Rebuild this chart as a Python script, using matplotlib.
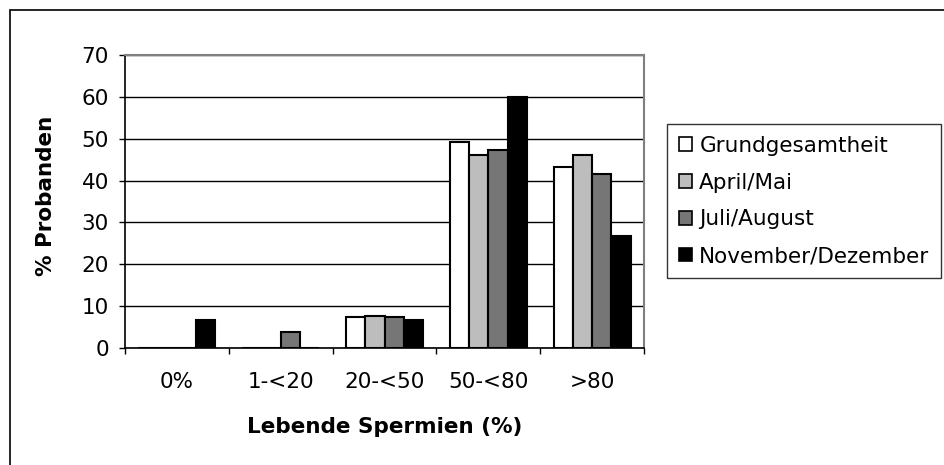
import numpy as np
import matplotlib.pyplot as plt
from matplotlib.patches import Rectangle, Patch

plt.rcParams['font.family'] = ['DejaVu Sans']

categories = ['0%', '1-<20', '20-<50', '50-<80', '>80']
series_names = ['Grundgesamtheit', 'April/Mai', 'Juli/August', 'November/Dezember']
grund = [0, 0, 7.4, 49.3, 43.3]
april_mai = [0, 0, 7.7, 46.2, 46.2]
juli_august = [0, 3.8, 7.5, 47.2, 41.5]
nov_dez = [6.7, 0, 6.7, 60.0, 26.7]

series = [grund, april_mai, juli_august, nov_dez]
colors = ['white', '#bdbdbd', '#767676', 'black']
fs = 15.5

fig = plt.figure(figsize=(9.44, 4.65), dpi=100)
ax = fig.add_axes([125/944, 1 - 348/465, (644-125)/944, (348-55)/465])

x = np.arange(len(categories))
w = 0.185
for i, vals in enumerate(series):
    ax.bar(x + (i - 1.5) * w, vals, width=w, color=colors[i], edgecolor='black',
           linewidth=1.5, zorder=3, label=series_names[i])

ax.set_ylim(0, 70)
ax.set_xlim(-0.5, len(categories) - 0.5)
ax.set_yticks(range(0, 71, 10))
ax.yaxis.grid(True, color='black', linewidth=1)
ax.set_axisbelow(True)

# ticks sit between the categories, labels in the middle
ax.set_xticks(np.arange(-0.5, len(categories), 1))
ax.set_xticklabels([])
ax.set_xticks(x, minor=True)
ax.set_xticklabels(categories, minor=True)
ax.tick_params(axis='x', which='minor', length=0, pad=17, labelsize=fs)
ax.tick_params(axis='x', which='major', length=4.5, width=1)
ax.tick_params(axis='y', length=4.5, width=1, labelsize=fs, pad=7)

for s in ['top', 'right']:
    ax.spines[s].set_color('#808080')
    ax.spines[s].set_linewidth(1.5)
for s in ['left', 'bottom']:
    ax.spines[s].set_color('black')
    ax.spines[s].set_linewidth(1.2)

ax.set_xlabel('Lebende Spermien (%)', fontsize=fs, fontweight='bold', labelpad=18)
ax.set_ylabel('% Probanden', fontsize=fs, fontweight='bold')
ax.yaxis.set_label_coords(-0.133, 0.52)

handles = [Patch(facecolor=c, edgecolor='black', linewidth=1.2) for c in colors]
leg = fig.legend(handles, series_names, loc='upper left',
                 bbox_to_anchor=(667/944, 1 - 124/465), fontsize=fs,
                 frameon=True, fancybox=False, handlelength=0.6, handleheight=0.6,
                 handletextpad=0.35, labelspacing=0.78, borderpad=0.55, borderaxespad=0)
leg.get_frame().set_edgecolor('black')
leg.get_frame().set_linewidth(1)

# outer chart frame (only top and left edges are inside the picture)
fig.patches.append(Rectangle((10/944, -0.1), 1.2, 1 - 10/465 + 0.1, transform=fig.transFigure,
                             fill=False, edgecolor='black', linewidth=1.2))

plt.savefig('out.png', dpi=100)
